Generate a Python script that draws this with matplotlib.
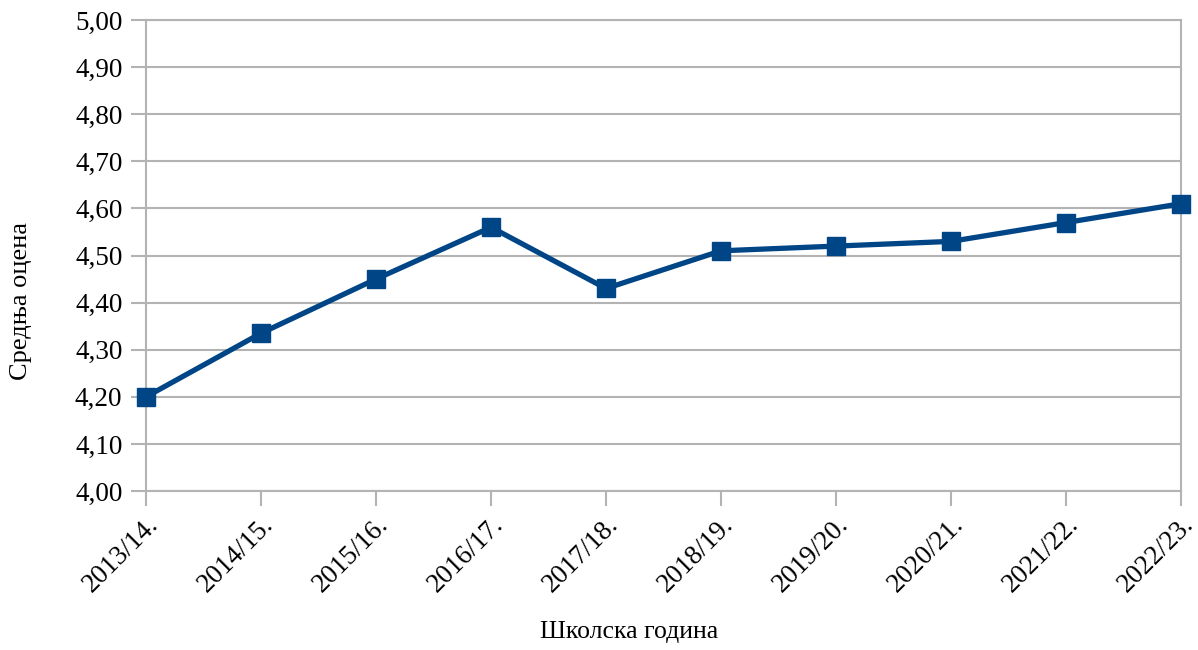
import numpy as np
import matplotlib.pyplot as plt
from matplotlib.ticker import FuncFormatter, MultipleLocator

godine = ["2013/14.", "2014/15.", "2015/16.", "2016/17.", "2017/18.",
          "2018/19.", "2019/20.", "2020/21.", "2021/22.", "2022/23."]
ocene = [4.20, 4.335, 4.45, 4.56, 4.43, 4.51, 4.52, 4.53, 4.57, 4.61]

plava = "#004586"
siva = "#b3b3b3"

plt.rcParams['font.family'] = ['Liberation Serif', 'DejaVu Serif']

fig = plt.figure(figsize=(11.98, 6.5), dpi=100)
ax = fig.add_axes([0.1219, 0.2446, 0.8639, 0.7246])

x = np.arange(len(godine))
ax.plot(x, ocene, color=plava, linewidth=3.8, marker="s", markersize=13,
        markerfacecolor=plava, markeredgecolor=plava, zorder=3, clip_on=False)

ax.set_xlim(0, len(godine) - 1)
ax.set_ylim(4.0, 5.0)
ax.yaxis.set_major_locator(MultipleLocator(0.1))
ax.yaxis.set_major_formatter(FuncFormatter(lambda v, p: f"{v:.2f}".replace(".", ",")))
ax.set_xticks(x)
ax.set_xticklabels(godine, rotation=45, ha="right", rotation_mode="anchor")

ax.grid(axis="y", color=siva, linewidth=1.5)
ax.set_axisbelow(True)
for s in ax.spines.values():
    s.set_color(siva)
    s.set_linewidth(1.5)
ax.tick_params(axis="both", colors=siva, length=11, width=1.5, labelsize=19.5,
               labelcolor="black")
ax.tick_params(axis="y", pad=6)
ax.tick_params(axis="x", pad=4)

ax.set_ylabel("Средња оцена", fontsize=19)
ax.set_xlabel("Школска година", fontsize=18.5)
ax.yaxis.set_label_coords(-0.110, 0.403)
ax.xaxis.set_label_coords(0.4667, -0.276)

fig.savefig("out.png", dpi=100)
